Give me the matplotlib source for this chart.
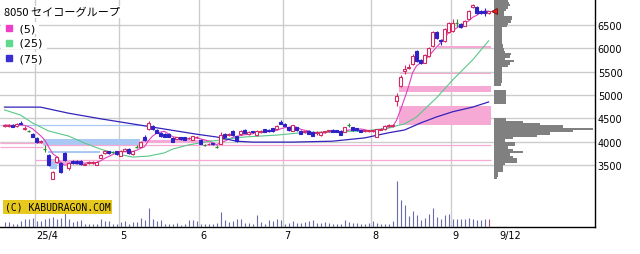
import numpy as np
import pandas as pd
import matplotlib.pyplot as plt
from matplotlib.patches import Rectangle

# daily candles, index 0 = 2025/3/19 ... 121 = 2025/9/12
opens = [4330, 4340, 4360, 4330, 4400, 4270, 4230, 4170, 4070, 3990,
         3850, 3720, 3210, 3560, 3540, 3750, 3430, 3580, 3580, 3590,
         3510, 3550, 3550, 3510, 3650, 3760, 3790, 3780, 3800, 3700,
         3800, 3840, 3730, 3890, 3890, 4110, 4270, 4340, 4250, 4190,
         4160, 4170, 4080, 4060, 4090, 4100, 4070, 4040, 4090, 4040,
         3930, 3940, 3970, 3890, 3950, 4160, 4140, 4220, 4120, 4160,
         4250, 4170, 4220, 4140, 4200, 4270, 4260, 4290, 4270, 4430,
         4380, 4310, 4230, 4310, 4230, 4200, 4230, 4210, 4180, 4140,
         4200, 4220, 4260, 4250, 4230, 4210, 4360, 4310, 4290, 4250,
         4220, 4220, 4220, 4110, 4260, 4270, 4330, 4330, 4870, 5190,
         5510, 5580, 5660, 5940, 5750, 5690, 5840, 6050, 6350, 6180,
         6160, 6350, 6370, 6540, 6520, 6480, 6630, 6890, 6890, 6800,
         6800, 6760]
highs = [4370, 4370, 4370, 4390, 4440, 4330, 4260, 4180, 4090, 4040,
         3920, 3740, 3380, 3700, 3560, 3780, 3560, 3600, 3600, 3610,
         3550, 3590, 3580, 3580, 3740, 3820, 3810, 3800, 3810, 3820,
         3860, 3860, 3810, 3920, 4010, 4140, 4440, 4360, 4270, 4200,
         4180, 4190, 4090, 4110, 4100, 4110, 4100, 4130, 4120, 4050,
         3950, 3970, 3980, 3920, 4210, 4180, 4190, 4240, 4130, 4240,
         4270, 4220, 4230, 4240, 4240, 4280, 4280, 4300, 4350, 4460,
         4390, 4320, 4360, 4320, 4240, 4230, 4240, 4220, 4220, 4220,
         4230, 4250, 4270, 4260, 4240, 4320, 4400, 4320, 4300, 4260,
         4250, 4260, 4260, 4280, 4300, 4350, 4370, 4370, 5040, 5420,
         5640, 5660, 5870, 5960, 5770, 5880, 6030, 6370, 6380, 6200,
         6430, 6560, 6630, 6620, 6540, 6610, 6820, 6960, 6900, 6820,
         6860, 6800]
lows = [4310, 4320, 4310, 4320, 4370, 4250, 4200, 4090, 3980, 3970,
        3780, 3480, 3190, 3540, 3330, 3580, 3400, 3530, 3530, 3510,
        3490, 3530, 3530, 3490, 3640, 3740, 3740, 3750, 3720, 3690,
        3790, 3730, 3710, 3860, 3880, 4010, 4250, 4260, 4180, 4110,
        4090, 4100, 3990, 4050, 4040, 4030, 4060, 4030, 4080, 3950,
        3910, 3930, 3930, 3870, 3940, 4090, 4130, 4120, 3990, 4150,
        4180, 4150, 4190, 4130, 4190, 4200, 4210, 4200, 4260, 4370,
        4330, 4230, 4220, 4230, 4160, 4190, 4160, 4120, 4140, 4130,
        4190, 4200, 4200, 4200, 4140, 4200, 4320, 4230, 4230, 4200,
        4210, 4210, 4210, 4100, 4250, 4260, 4320, 4320, 4760, 5170,
        5460, 5550, 5640, 5710, 5670, 5680, 5820, 6030, 6200, 6080,
        6140, 6330, 6350, 6450, 6440, 6470, 6620, 6860, 6730, 6730,
        6690, 6740]
closes = [4350, 4360, 4320, 4380, 4380, 4300, 4230, 4100, 4000, 4020,
          3850, 3500, 3360, 3680, 3360, 3600, 3540, 3550, 3550, 3530,
          3530, 3570, 3570, 3560, 3710, 3800, 3760, 3780, 3740, 3800,
          3840, 3750, 3800, 3890, 3990, 4030, 4400, 4280, 4190, 4130,
          4110, 4110, 4000, 4100, 4050, 4040, 4080, 4120, 4100, 3960,
          3930, 3960, 3940, 3890, 4150, 4100, 4170, 4140, 4010, 4230,
          4190, 4210, 4200, 4230, 4220, 4210, 4220, 4220, 4340, 4380,
          4340, 4240, 4350, 4240, 4170, 4220, 4170, 4130, 4210, 4210,
          4220, 4240, 4210, 4210, 4150, 4310, 4360, 4240, 4240, 4210,
          4240, 4240, 4250, 4270, 4280, 4340, 4350, 4350, 4980, 5390,
          5560, 5610, 5840, 5730, 5690, 5860, 6010, 6350, 6220, 6150,
          6410, 6540, 6540, 6540, 6460, 6590, 6800, 6930, 6750, 6750,
          6760, 6790]
# volume, 10k shares
volumes = [5.0, 5.5, 3.3, 2.6, 5.6, 8.2, 7.6, 8.9, 5.6, 5.6,
           7.6, 8.9, 9.9, 8.2, 8.9, 14.8, 7.6, 4.9, 5.6, 6.6,
           2.6, 2.6, 2.6, 3.3, 7.6, 5.6, 5.6, 3.3, 3.3, 4.9,
           5.6, 3.3, 4.9, 4.9, 8.9, 7.0, 19.0, 7.6, 5.9, 6.6,
           3.3, 2.6, 3.3, 3.9, 1.6, 3.3, 6.6, 6.6, 5.6, 3.3,
           2.6, 2.6, 2.6, 3.9, 14.8, 6.6, 4.9, 5.6, 8.2, 8.2,
           4.3, 4.3, 3.3, 12.2, 4.9, 3.3, 6.6, 5.6, 8.2, 6.6,
           3.3, 3.9, 5.9, 4.3, 4.3, 4.9, 5.9, 6.6, 4.3, 4.3,
           4.9, 3.9, 2.6, 3.3, 2.6, 6.6, 4.9, 4.3, 3.9, 3.3,
           3.3, 4.0, 5.6, 3.9, 3.3, 2.6, 3.3, 5.6, 46.0, 27.0,
           22.0, 11.5, 16.0, 12.0, 6.6, 9.0, 13.0, 19.0, 10.5, 8.0,
           12.0, 13.0, 8.0, 7.6, 7.6, 8.0, 8.9, 8.0, 6.6, 6.6,
           7.6, 7.6]

# moving averages
ma25_idx = [0, 4, 7, 11, 16, 20, 24, 28, 32, 36, 40, 42, 46, 50, 56, 60, 64, 68,
            74, 82, 90, 96, 98, 100, 103, 108, 112, 117, 121]
ma25_val = [4680, 4570, 4400, 4230, 4120, 3970, 3840, 3740, 3670, 3690, 3760, 3840,
            3930, 3990, 4060, 4100, 4120, 4140, 4190, 4210, 4230, 4290, 4340, 4380,
            4530, 4940, 5320, 5750, 6160]
ma75_idx = [0, 9, 16, 24, 32, 40, 48, 53, 58, 62, 72, 82, 90, 96, 100, 104, 108,
            112, 117, 121]
ma75_val = [4740, 4740, 4610, 4490, 4380, 4270, 4160, 4100, 4010, 3990, 3990, 4010,
            4080, 4190, 4250, 4400, 4530, 4640, 4740, 4850]

# price band highlights: (start idx, end idx, low, high)
zone_i0 = [98.6, 98.6, 98.9, 108.4, 9.6, 10.9, 11.4, 34.4, 12.6]
zone_i1 = [121.6, 121.6, 121.6, 121.6, 33.9, 23.9, 13.1, 51.9, 16.9]
zone_lo = [4360, 5070, 5440, 6015, 3930, 3760, 3420, 3975, 3520]
zone_hi = [4760, 5190, 5470, 6045, 4060, 3800, 3630, 4035, 3600]
zone_kind = ['p', 'p', 'p', 'p', 'b', 'b', 'b', 'p', 'p']
line_i0 = [-1.1, -1.1, 9.6, 7.6, -1.1]
line_i1 = [9.6, 9.6, 121.6, 121.6, 35.9]
line_y = [3970, 3880, 3929, 3614, 4357]
line_kind = ['p', 'p', 'p', 'p', 'b']

# price-by-volume profile, 50 yen bins from 3200
prof_vol = [3, 4, 4, 9, 9, 9, 11, 23, 23, 19,
            16, 29, 19, 14, 21, 21, 11, 19, 43, 56,
            79, 99, 69, 46, 29, 12, 0, 0, 0, 0,
            0, 0, 12, 12, 12, 12, 12, 12, 0, 0,
            7, 8, 8, 8, 8, 8, 8, 8, 14, 16,
            20, 11, 16, 17, 11, 10, 9, 9, 8, 8,
            8, 8, 8, 8, 8, 13, 14, 17, 18, 18,
            10, 10, 12, 14, 16, 15, 14, 14]
prof_price = np.arange(len(prof_vol)) * 50 + 3200

month_idx = [8, 29, 49, 70, 92, 112]
month_labels = ['25/4', '5', '6', '7', '8', '9']
last_label = '9/12'
price_ticks = [3500, 4000, 4500, 5000, 5500, 6000, 6500]

UP = '#d42a64'
DOWN = '#2b23c8'
DOJI = '#2e8b2e'
PINK = '#f6a9d5'
BLUE = '#aac8f4'
GRID = '#cccccc'

fig = plt.figure(figsize=(6.4, 2.55), dpi=100)
pos = [0, 27/255, 595/640, 228/255]
ax = fig.add_axes(pos)
ax.set_xlim(-1.125, 147.6)
ax.set_ylim(2171, 7057)

ax.set_yticks(price_ticks)
ax.yaxis.tick_right()
ax.tick_params(axis='y', length=0, pad=2, labelsize=7)
ax.set_xticks([])
ax.yaxis.grid(True, color=GRID, lw=1)
ax.set_axisbelow(True)
for m in month_idx:
    ax.axvline(m - 0.4, color=GRID, lw=1, zorder=0)
for s in ['top', 'left']:
    ax.spines[s].set_visible(False)
for s in ['bottom', 'right']:
    ax.spines[s].set_color('black')
    ax.spines[s].set_linewidth(1)

# zones
for a, b, lo, hi, k in zip(zone_i0, zone_i1, zone_lo, zone_hi, zone_kind):
    ax.add_patch(Rectangle((a, lo), b - a, hi - lo, facecolor=PINK if k == 'p' else BLUE,
                           edgecolor='none', zorder=1))
for a, b, yv, k in zip(line_i0, line_i1, line_y, line_kind):
    ax.hlines(yv, a, b, color=PINK if k == 'p' else BLUE, lw=0.9, zorder=1)

# moving averages
x = np.arange(len(closes))
ma5 = pd.Series(closes).rolling(5, min_periods=1).mean()
ax.plot(x, ma5, color='#e040c0', lw=0.8, zorder=2)
ax.plot(ma25_idx, ma25_val, color='#58c888', lw=0.8, zorder=2)
ax.plot(ma75_idx, ma75_val, color='#3322bb', lw=0.9, zorder=2)

# candles
for i, (o, h, l, c) in enumerate(zip(opens, highs, lows, closes)):
    if c > o:
        col = UP
    elif c < o:
        col = DOWN
    else:
        col = DOJI
    ax.vlines(i, l, h, color=col, lw=0.8, zorder=3)
    if c == o:
        ax.hlines(c, i - 0.45, i + 0.45, color=col, lw=0.9, zorder=4)
    elif c > o:
        ax.bar(i, c - o, bottom=o, width=0.55, facecolor='white', edgecolor=col,
               linewidth=0.8, zorder=4)
    else:
        ax.bar(i, o - c, bottom=c, width=0.55, facecolor=col, edgecolor=col,
               linewidth=0.8, zorder=4)

# date labels
for m, lab in zip(month_idx, month_labels):
    ax.text(m - 0.1, -0.012, lab, transform=ax.get_xaxis_transform(), ha='left',
            va='top', fontsize=7)
ax.text(len(closes) + 1.6, -0.012, last_label, transform=ax.get_xaxis_transform(),
        ha='left', va='top', fontsize=7)

# legend
ax.text(4/595, 1 - 13/228, '8050 セイコーグループ', transform=ax.transAxes,
        family=['Noto Sans CJK JP', 'DejaVu Sans'], fontsize=8, va='center', ha='left',
        bbox=dict(facecolor='white', edgecolor='none', pad=0.5))
for k, (lab, col) in enumerate(zip(['(5)', '(25)', '(75)'], ['#ee3fc6', '#5fd98c', '#3a2fd0'])):
    yy = 1 - (29 + 15 * k) / 228
    ax.text(2/595, yy, '     ' + lab + ' ', transform=ax.transAxes, fontsize=8,
            va='center', ha='left', zorder=6,
            bbox=dict(facecolor='white', edgecolor='none', pad=0.5))
    ax.plot([8.5/595], [yy], marker='s', ms=5, color=col, transform=ax.transAxes,
            zorder=7, clip_on=False)

# volume
ax_v = fig.add_axes(pos, sharex=ax)
ax_v.patch.set_alpha(0)
ax_v.axis('off')
ax_v.set_ylim(0, 228)
vcol = ['#6c6ca8'] * (len(volumes) - 1) + ['#b05070']
ax_v.vlines(x, 0, volumes, colors=vcol, lw=0.8)
ax_v.text(5/595, 20/228, '(C) KABUDRAGON.COM', transform=ax_v.transAxes,
          family='DejaVu Sans Mono', fontsize=7, va='center', ha='left', zorder=5,
          bbox=dict(facecolor='#e6c81e', edgecolor='none', pad=1.2))

# price-by-volume profile
ax_p = fig.add_axes([494/640, 27/255, 101/640, 228/255], sharey=ax)
ax_p.patch.set_alpha(0)
ax_p.axis('off')
ax_p.set_xlim(0, 101)
ax_p.barh(prof_price + 25, prof_vol, height=50, color='#808080', linewidth=0)
ax_p.plot(0, closes[-1], marker='<', ms=5, color='#e02020', mec='#700000', mew=0.5,
          clip_on=False, zorder=6)

fig.savefig('out.png', dpi=100)
